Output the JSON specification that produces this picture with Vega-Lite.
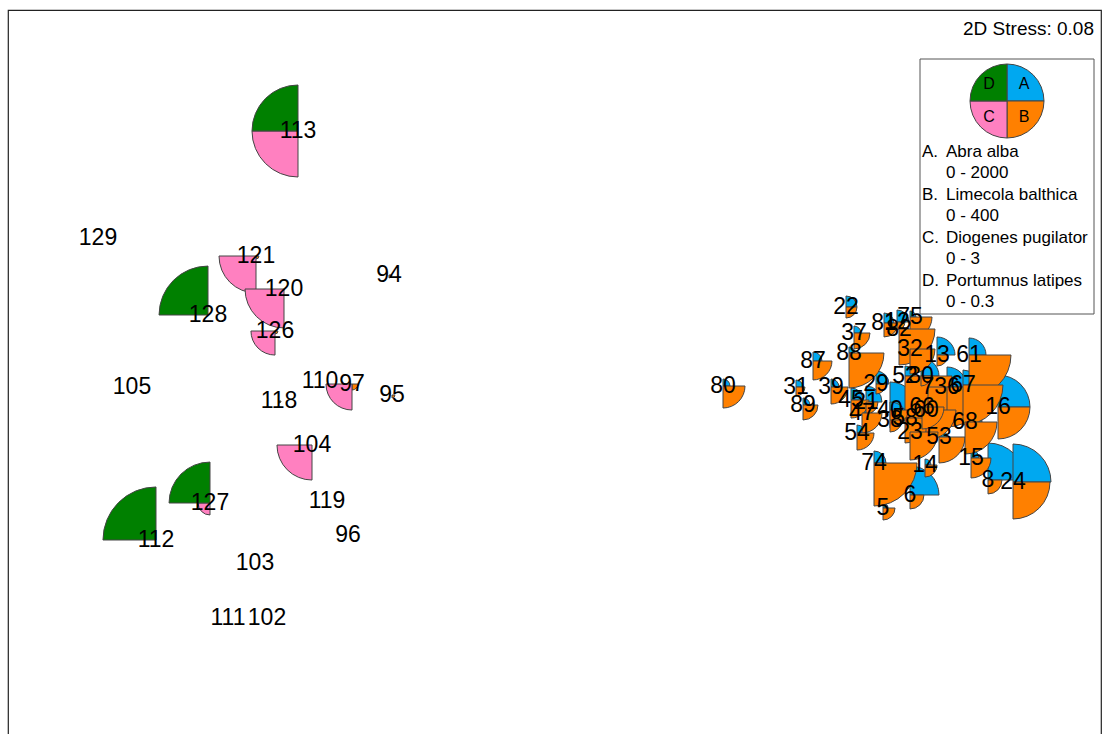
{
  "$schema": "https://vega.github.io/schema/vega-lite/v6.json",
  "width": 1093,
  "height": 740,
  "autosize": "none",
  "padding": {"left": 8, "top": 10, "right": 1, "bottom": 0},
  "background": "white",
  "config": {
    "view": {"stroke": "#222", "strokeWidth": 1.2},
    "text": {"font": "Liberation Sans", "color": "black"}
  },
  "datasets": {
    "sites": [
      {"site": "key", "x": 452, "y": 269, "A": 2000, "B": 400, "C": 3, "D": 0.3},
      {"site": "80", "x": 168, "y": -16, "A": 378, "B": 238, "C": 0, "D": 0},
      {"site": "22", "x": 291, "y": 63, "A": 595, "B": 119, "C": 0, "D": 0},
      {"site": "37", "x": 299, "y": 37, "A": 378, "B": 173, "C": 0, "D": 0},
      {"site": "87", "x": 258, "y": 9, "A": 486, "B": 205, "C": 0, "D": 0},
      {"site": "88", "x": 294, "y": 17, "A": 324, "B": 378, "C": 0, "D": 0},
      {"site": "31", "x": 241, "y": -17, "A": 378, "B": 97, "C": 0, "D": 0},
      {"site": "89", "x": 248, "y": -35, "A": 378, "B": 162, "C": 0, "D": 0},
      {"site": "39", "x": 276, "y": -17, "A": 432, "B": 184, "C": 0, "D": 0},
      {"site": "81", "x": 329, "y": 47, "A": 541, "B": 151, "C": 0, "D": 0},
      {"site": "12", "x": 342, "y": 48, "A": 649, "B": 86, "C": 0, "D": 0},
      {"site": "75", "x": 355, "y": 53, "A": 324, "B": 238, "C": 0, "D": 0},
      {"site": "82", "x": 344, "y": 41, "A": 270, "B": 389, "C": 0, "D": 0},
      {"site": "32", "x": 355, "y": 21, "A": 432, "B": 270, "C": 0, "D": 0},
      {"site": "13", "x": 382, "y": 15, "A": 973, "B": 119, "C": 0, "D": 0},
      {"site": "61", "x": 414, "y": 15, "A": 919, "B": 454, "C": 0, "D": 0},
      {"site": "29", "x": 321, "y": -14, "A": 703, "B": 108, "C": 0, "D": 0},
      {"site": "52", "x": 350, "y": -6, "A": 541, "B": 508, "C": 0, "D": 0},
      {"site": "30", "x": 366, "y": -6, "A": 973, "B": 108, "C": 0, "D": 0},
      {"site": "7", "x": 373, "y": -17, "A": 432, "B": 324, "C": 0, "D": 0},
      {"site": "36", "x": 392, "y": -17, "A": 1081, "B": 432, "C": 0, "D": 0},
      {"site": "67", "x": 408, "y": -15, "A": 811, "B": 432, "C": 0, "D": 0},
      {"site": "16", "x": 443, "y": -37, "A": 1730, "B": 346, "C": 0, "D": 0},
      {"site": "45", "x": 296, "y": -30, "A": 649, "B": 195, "C": 0, "D": 0},
      {"site": "21", "x": 311, "y": -32, "A": 865, "B": 130, "C": 0, "D": 0},
      {"site": "47", "x": 307, "y": -43, "A": 541, "B": 216, "C": 0, "D": 0},
      {"site": "40", "x": 335, "y": -40, "A": 1514, "B": 195, "C": 0, "D": 0},
      {"site": "38", "x": 335, "y": -50, "A": 973, "B": 130, "C": 0, "D": 0},
      {"site": "58", "x": 350, "y": -48, "A": 541, "B": 270, "C": 0, "D": 0},
      {"site": "60", "x": 371, "y": -40, "A": 649, "B": 324, "C": 0, "D": 0},
      {"site": "66", "x": 367, "y": -37, "A": 865, "B": 238, "C": 0, "D": 0},
      {"site": "54", "x": 302, "y": -63, "A": 432, "B": 184, "C": 0, "D": 0},
      {"site": "23", "x": 355, "y": -62, "A": 324, "B": 303, "C": 0, "D": 0},
      {"site": "53", "x": 384, "y": -67, "A": 432, "B": 281, "C": 0, "D": 0},
      {"site": "68", "x": 410, "y": -52, "A": 919, "B": 346, "C": 0, "D": 0},
      {"site": "74", "x": 319, "y": -93, "A": 649, "B": 465, "C": 0, "D": 0},
      {"site": "14", "x": 370, "y": -95, "A": 324, "B": 130, "C": 0, "D": 0},
      {"site": "15", "x": 416, "y": -88, "A": 432, "B": 216, "C": 0, "D": 0},
      {"site": "8", "x": 433, "y": -110, "A": 2000, "B": 151, "C": 0, "D": 0},
      {"site": "24", "x": 458, "y": -112, "A": 2054, "B": 400, "C": 0, "D": 0},
      {"site": "5", "x": 328, "y": -138, "A": 270, "B": 130, "C": 0, "D": 0},
      {"site": "6", "x": 355, "y": -125, "A": 1568, "B": 151, "C": 0, "D": 0},
      {"site": "113", "x": -257, "y": 239, "A": 0, "B": 0, "C": 3.73, "D": 0.373},
      {"site": "129", "x": -457, "y": 132, "A": 0, "B": 0, "C": 0, "D": 0},
      {"site": "121", "x": -299, "y": 114, "A": 0, "B": 32, "C": 3.0, "D": 0},
      {"site": "94", "x": -166, "y": 95, "A": 0, "B": 32, "C": 0, "D": 0},
      {"site": "120", "x": -271, "y": 81, "A": 0, "B": 0, "C": 3.16, "D": 0},
      {"site": "128", "x": -347, "y": 55, "A": 0, "B": 0, "C": 0, "D": 0.397},
      {"site": "126", "x": -280, "y": 39, "A": 0, "B": 32, "C": 1.95, "D": 0},
      {"site": "105", "x": -423, "y": -17, "A": 0, "B": 0, "C": 0, "D": 0},
      {"site": "110", "x": -235, "y": -11, "A": 0, "B": 0, "C": 0, "D": 0},
      {"site": "97", "x": -203, "y": -14, "A": 0, "B": 65, "C": 2.11, "D": 0},
      {"site": "95", "x": -163, "y": -25, "A": 0, "B": 32, "C": 0, "D": 0},
      {"site": "118", "x": -276, "y": -31, "A": 0, "B": 22, "C": 0, "D": 0},
      {"site": "104", "x": -243, "y": -75, "A": 0, "B": 0, "C": 2.84, "D": 0},
      {"site": "119", "x": -228, "y": -131, "A": 0, "B": 0, "C": 0, "D": 0},
      {"site": "127", "x": -345, "y": -133, "A": 0, "B": 0, "C": 0.97, "D": 0.332},
      {"site": "112", "x": -399, "y": -170, "A": 0, "B": 0, "C": 0, "D": 0.43},
      {"site": "96", "x": -207, "y": -165, "A": 0, "B": 0, "C": 0, "D": 0},
      {"site": "103", "x": -300, "y": -193, "A": 0, "B": 0, "C": 0, "D": 0},
      {"site": "111", "x": -327, "y": -248, "A": 0, "B": 0, "C": 0, "D": 0},
      {"site": "102", "x": -288, "y": -248, "A": 0, "B": 0, "C": 0, "D": 0}
    ],
    "box": [{"x": 365, "x2": 539, "y": 311, "y2": 56}],
    "keyLetters": [
      {"x": 469, "y": 286, "t": "A"},
      {"x": 469, "y": 253, "t": "B"},
      {"x": 434, "y": 253, "t": "C"},
      {"x": 434, "y": 286, "t": "D"}
    ],
    "legendText": [
      {"x": 367, "y": 218, "t": "A."},
      {"x": 391, "y": 218, "t": "Abra alba"},
      {"x": 391, "y": 197, "t": "0 - 2000"},
      {"x": 367, "y": 175, "t": "B."},
      {"x": 391, "y": 175, "t": "Limecola balthica"},
      {"x": 391, "y": 154, "t": "0 - 400"},
      {"x": 367, "y": 132, "t": "C."},
      {"x": 391, "y": 132, "t": "Diogenes pugilator"},
      {"x": 391, "y": 111, "t": "0 - 3"},
      {"x": 367, "y": 89, "t": "D."},
      {"x": 391, "y": 89, "t": "Portumnus latipes"},
      {"x": 391, "y": 68, "t": "0 - 0.3"}
    ],
    "stress": [{"x": 539, "y": 341, "t": "2D Stress: 0.08"}]
  },
  "encoding": {
    "x": {"field": "x", "type": "quantitative", "axis": null, "scale": {"domain": [-547, 546], "nice": false, "zero": false}},
    "y": {"field": "y", "type": "quantitative", "axis": null, "scale": {"domain": [-380, 360], "nice": false, "zero": false}}
  },
  "layer": [
    {
      "data": {"name": "box"},
      "mark": {"type": "rect", "fill": "white", "stroke": "#555", "strokeWidth": 1},
      "encoding": {"x2": {"field": "x2"}, "y2": {"field": "y2"}}
    },
    {
      "data": {"name": "sites"},
      "transform": [{"filter": "datum.A > 0"}],
      "mark": {"type": "arc", "theta": 0, "theta2": 1.5707963, "fill": "#00A8F0", "stroke": "#444", "strokeWidth": 1},
      "encoding": {"radius": {"field": "A", "type": "quantitative", "stack": null, "legend": null, "scale": {"type": "linear", "domain": [0, 2000], "range": [0, 37], "zero": true}}}
    },
    {
      "data": {"name": "sites"},
      "transform": [{"filter": "datum.B > 0"}],
      "mark": {"type": "arc", "theta": 1.5707963, "theta2": 3.1415927, "fill": "#FF8000", "stroke": "#444", "strokeWidth": 1},
      "encoding": {"radius": {"field": "B", "type": "quantitative", "stack": null, "legend": null, "scale": {"type": "linear", "domain": [0, 400], "range": [0, 37], "zero": true}}}
    },
    {
      "data": {"name": "sites"},
      "transform": [{"filter": "datum.C > 0"}],
      "mark": {"type": "arc", "theta": 3.1415927, "theta2": 4.712389, "fill": "#FF80C0", "stroke": "#444", "strokeWidth": 1},
      "encoding": {"radius": {"field": "C", "type": "quantitative", "stack": null, "legend": null, "scale": {"type": "linear", "domain": [0, 3], "range": [0, 37], "zero": true}}}
    },
    {
      "data": {"name": "sites"},
      "transform": [{"filter": "datum.D > 0"}],
      "mark": {"type": "arc", "theta": 4.712389, "theta2": 6.2831853, "fill": "#008000", "stroke": "#444", "strokeWidth": 1},
      "encoding": {"radius": {"field": "D", "type": "quantitative", "stack": null, "legend": null, "scale": {"type": "linear", "domain": [0, 0.3], "range": [0, 37], "zero": true}}}
    },
    {
      "data": {"name": "sites"},
      "transform": [{"filter": "datum.site != 'key'"}],
      "mark": {"type": "text", "fontSize": 23, "align": "center", "baseline": "middle"},
      "encoding": {"text": {"field": "site"}}
    },
    {
      "data": {"name": "keyLetters"},
      "mark": {"type": "text", "fontSize": 16, "align": "center", "baseline": "middle"},
      "encoding": {"text": {"field": "t"}}
    },
    {
      "data": {"name": "legendText"},
      "mark": {"type": "text", "fontSize": 17, "align": "left", "baseline": "middle"},
      "encoding": {"text": {"field": "t"}}
    },
    {
      "data": {"name": "stress"},
      "mark": {"type": "text", "fontSize": 19, "align": "right", "baseline": "middle"},
      "encoding": {"text": {"field": "t"}}
    }
  ],
  "resolve": {"scale": {"radius": "independent"}}
}
